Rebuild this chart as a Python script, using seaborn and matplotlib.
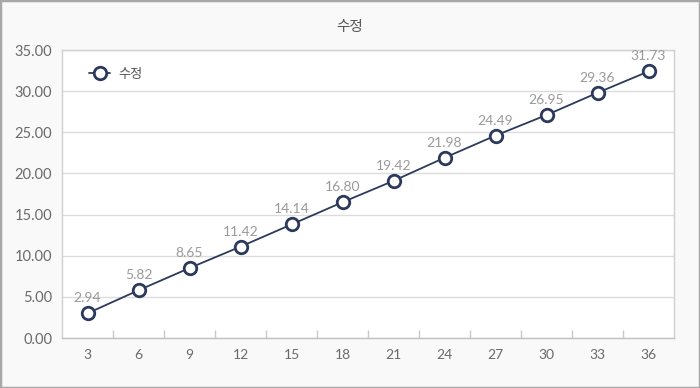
import matplotlib
matplotlib.use("Agg")
import matplotlib.pyplot as plt
import seaborn as sns
import pandas as pd
from matplotlib.patches import Rectangle
from matplotlib.ticker import FixedLocator

categories = [3, 6, 9, 12, 15, 18, 21, 24, 27, 30, 33, 36]
# plotted positions
values = [3.0, 5.8, 8.5, 11.1, 13.8, 16.5, 19.1, 21.9, 24.6, 27.1, 29.8, 32.4]
# data label texts as printed on the chart
value_labels = ["2.94", "5.82", "8.65", "11.42", "14.14", "16.80",
                "19.42", "21.98", "24.49", "26.95", "29.36", "31.73"]
series_name = "수정"
title = "수정"
y_ticks = [0, 5, 10, 15, 20, 25, 30, 35]

sns.set_theme(style="white")
plt.rcParams['font.family'] = ['Lato', 'Noto Sans CJK KR', 'DejaVu Sans']

df = pd.DataFrame({"x": categories, "y": values, "s": series_name})

fig = plt.figure(figsize=(7, 3.88), dpi=100, facecolor="#f9f9f9")
fig.patches.append(Rectangle((0, 0), 1, 1, transform=fig.transFigure, fill=False,
                             edgecolor="#a8a8a8", linewidth=2.5, zorder=10))
ax = fig.add_axes([62/700, 1-338/388, 612/700, 288/388])
ax.set_facecolor("white")

navy = "#2b3a5c"
sns.lineplot(data=df, x="x", y="y", hue="s", palette=[navy], ax=ax,
             marker="o", markersize=9, markerfacecolor="white",
             markeredgecolor=navy, markeredgewidth=2, linewidth=1.3)

ax.set_xlim(1.5, 37.5)
ax.set_ylim(0, 35)
ax.set_xticks(categories)
ax.set_xticklabels([str(c) for c in categories])
ax.xaxis.set_minor_locator(FixedLocator([c + 1.5 for c in categories[:-1]]))
ax.tick_params(axis="x", which="major", length=0, pad=8, labelsize=10, labelcolor="#6a6a6a")
ax.tick_params(axis="x", which="minor", direction="in", length=6, width=1, color="#c8c8c8", bottom=True)
ax.set_yticks(y_ticks)
ax.set_yticklabels([f"{t:.2f}" for t in y_ticks])
ax.tick_params(axis="y", length=0, pad=7, labelsize=10.5, labelcolor="#6a6a6a")
ax.grid(axis="y", color="#dcdcdc", linewidth=1)
for sp in ax.spines.values():
    sp.set_color("#d0d0d0")
    sp.set_linewidth(1)
ax.spines["bottom"].set_color("#c0c0c0")
ax.set_xlabel("")
ax.set_ylabel("")

for xv, yv, txt in zip(categories, values, value_labels):
    ax.annotate(txt, (xv, yv), xytext=(0, 6.5), textcoords="offset points",
                ha="center", va="bottom", fontsize=10, color="#9a9a9a")

leg = ax.legend(loc="upper left", frameon=False, fontsize=9.5, handlelength=1.6,
                handletextpad=0.6, bbox_to_anchor=(0.025, 0.98))
for t in leg.get_texts():
    t.set_color("#555555")

fig.text(0.5, 1-27/388, title, ha="center", va="center", fontsize=10.5, color="#555555")

fig.savefig("out.png", dpi=100, facecolor=fig.get_facecolor())
